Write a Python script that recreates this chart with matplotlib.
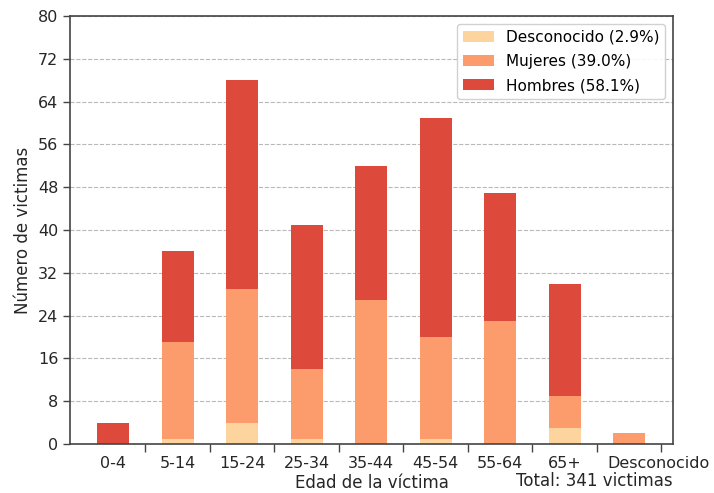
import numpy as np
import matplotlib
matplotlib.use("Agg")
import matplotlib.pyplot as plt
from matplotlib.transforms import ScaledTranslation

# data
grupos = ["0-4", "5-14", "15-24", "25-34", "35-44", "45-54", "55-64", "65+", "Desconocido"]
desconocido = [0, 1, 4, 1, 0, 1, 0, 3, 0]
mujeres = [0, 18, 25, 13, 27, 19, 23, 6, 2]
hombres = [4, 17, 39, 27, 25, 41, 24, 21, 0]

total = sum(desconocido) + sum(mujeres) + sum(hombres)
pct = lambda v: 100.0 * sum(v) / total

colores = ["#fdd49e", "#fc9b6c", "#dd4a3c"]

fig = plt.figure(figsize=(7.14, 4.93), dpi=100)
ax = fig.add_axes([0.098, 0.0994, 0.8446, 0.8681])

x = np.arange(len(grupos))
d = np.array(desconocido)
m = np.array(mujeres)
h = np.array(hombres)
ax.bar(x, d, 0.5, color=colores[0], label="Desconocido (%.1f%%)" % pct(desconocido), zorder=2)
ax.bar(x, m, 0.5, bottom=d, color=colores[1], label="Mujeres (%.1f%%)" % pct(mujeres), zorder=2)
ax.bar(x, h, 0.5, bottom=d + m, color=colores[2], label="Hombres (%.1f%%)" % pct(hombres), zorder=2)

ax.set_xlim(-0.67, 8.68)
ax.set_ylim(0, 80)
ax.set_yticks(np.arange(0, 81, 8))
ax.set_xticks(x)
ax.set_xticklabels(grupos)
ax.set_xticks(x + 0.5, minor=True)
ax.tick_params(axis="x", which="major", length=0, pad=9, labelsize=11.5, labelcolor="#262626")
ax.tick_params(axis="x", which="minor", length=6, width=1, color="#444444")
ax.tick_params(axis="y", length=5, width=1, color="#444444", labelsize=11.5, labelcolor="#262626")
# shift the last label a bit to the right like the original
lab = ax.get_xticklabels()[-1]
lab.set_transform(lab.get_transform() + ScaledTranslation(0.29, 0, fig.dpi_scale_trans))

ax.yaxis.grid(True, linestyle="--", color="#b8b8b8", linewidth=0.8, zorder=0)
ax.set_axisbelow(True)
for s in ax.spines.values():
    s.set_color("#444444")
    s.set_linewidth(1.2)

ax.set_ylabel("Número de victimas", fontsize=12, color="#262626", labelpad=4)
ax.set_xlabel("Edad de la víctima", fontsize=12, color="#262626", labelpad=2)
fig.text(0.9426, 0.006, "Total: %d victimas" % total, ha="right", va="bottom",
         fontsize=12, color="#262626")

ax.legend(loc="upper right", fontsize=11, framealpha=0.9, edgecolor="#cccccc",
          handlelength=2.0, borderaxespad=0.5, labelspacing=0.6)

plt.savefig("out.png", dpi=100)
